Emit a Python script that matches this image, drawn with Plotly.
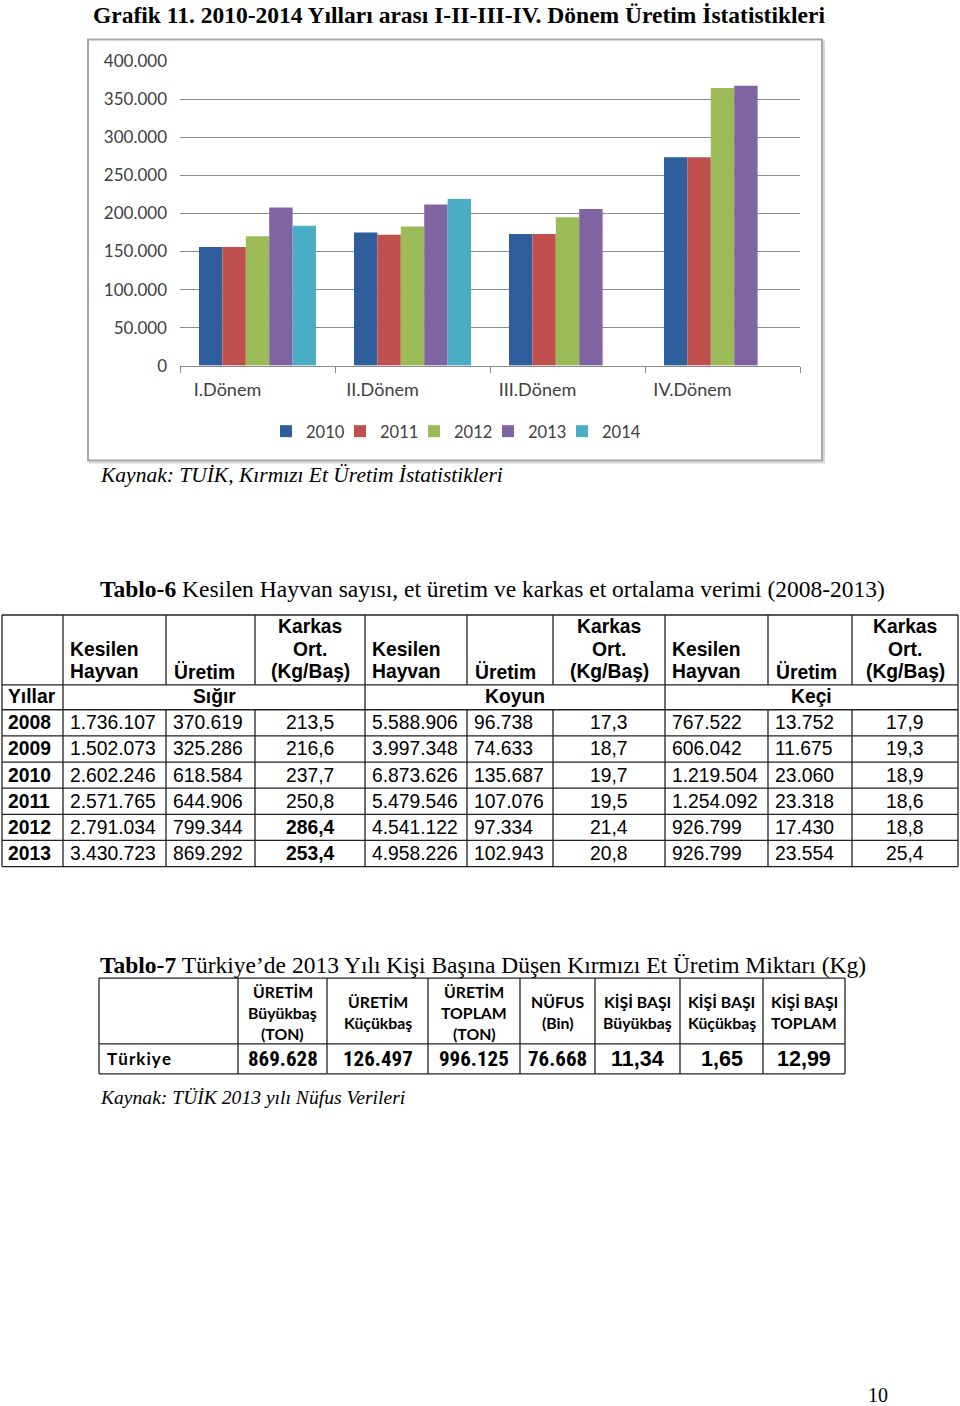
import plotly.graph_objects as go

W, H = 960, 1406

# ---------------- chart data ----------------
periods = ["I.Dönem", "II.Dönem", "III.Dönem", "IV.Dönem"]
years = ["2010", "2011", "2012", "2013", "2014"]
v2010 = [156000, 175000, 173000, 274000]
v2011 = [156000, 172000, 173000, 274000]
v2012 = [170000, 183000, 195000, 365000]
v2013 = [208000, 212000, 206000, 368000]
v2014 = [184000, 219000, None, None]
series = [v2010, v2011, v2012, v2013, v2014]
ytick_vals = [0, 50000, 100000, 150000, 200000, 250000, 300000, 350000, 400000]
ytick_text = ["0", "50.000", "100.000", "150.000", "200.000", "250.000", "300.000", "350.000", "400.000"]

# ---------------- table 6 data ----------------
t6_years = ["2008", "2009", "2010", "2011", "2012", "2013"]
sigir_kesilen = ["1.736.107", "1.502.073", "2.602.246", "2.571.765", "2.791.034", "3.430.723"]
sigir_uretim = ["370.619", "325.286", "618.584", "644.906", "799.344", "869.292"]
sigir_karkas = ["213,5", "216,6", "237,7", "250,8", "286,4", "253,4"]
koyun_kesilen = ["5.588.906", "3.997.348", "6.873.626", "5.479.546", "4.541.122", "4.958.226"]
koyun_uretim = ["96.738", "74.633", "135.687", "107.076", "97.334", "102.943"]
koyun_karkas = ["17,3", "18,7", "19,7", "19,5", "21,4", "20,8"]
keci_kesilen = ["767.522", "606.042", "1.219.504", "1.254.092", "926.799", "926.799"]
keci_uretim = ["13.752", "11.675", "23.060", "23.318", "17.430", "23.554"]
keci_karkas = ["17,9", "19,3", "18,9", "18,6", "18,8", "25,4"]
t6_groups = ["Sığır", "Koyun", "Keçi"]

# ---------------- table 7 data ----------------
t7_headers = [["ÜRETİM", "Büyükbaş", "(TON)"], ["ÜRETİM", "Küçükbaş"], ["ÜRETİM", "TOPLAM", "(TON)"],
              ["NÜFUS", "(Bin)"], ["KİŞİ BAŞI", "Büyükbaş"], ["KİŞİ BAŞI", "Küçükbaş"], ["KİŞİ BAŞI", "TOPLAM"]]
t7_row = "Türkiye"
t7_values = ["869.628", "126.497", "996.125", "76.668", "11,34", "1,65", "12,99"]

# ---------------- styles ----------------
colors = ["#2F5E9C", "#C0504D", "#9BBB59", "#8064A2", "#4BACC6"]
SERIF = "Liberation Serif, Times New Roman, serif"
ARIAL = "Liberation Sans, Arial, sans-serif"
CALI = "Lato, Open Sans, sans-serif"
NARROW = "Liberation Sans Narrow, Roboto Condensed, Liberation Sans, sans-serif"

# vertical calibration of the rendered page (screen px -> figure px)
Y_OFF, Y_SC = 9.5, 0.9875


def X(px):
    return px / W


def Y(py):
    return 1 - ((py - Y_OFF) / Y_SC) / H


fig = go.Figure()
for yr, vals, c in zip(years, series, colors):
    fig.add_trace(go.Bar(name=yr, x=periods, y=vals, marker=dict(color=c, line=dict(width=0)),
                         legendwidth=48 if yr == years[-1] else None))

annotations = []
shapes = []


def txt(x, y, s, size, family, anchor="left", color="black"):
    annotations.append(dict(xref="paper", yref="paper", x=X(x), y=Y(y), text=s, showarrow=False,
                            xanchor=anchor, yanchor="middle", borderpad=0,
                            font=dict(family=family, size=size, color=color)))


def line(x0, y0, x1, y1, color="#222222", width=1.3):
    shapes.append(dict(type="line", xref="paper", yref="paper", x0=X(x0), y0=Y(y0), x1=X(x1), y1=Y(y1),
                       line=dict(color=color, width=width)))


# ---- page texts ----
txt(92, 14, "<b>Grafik 11. 2010-2014 Yılları arası I-II-III-IV. Dönem Üretim İstatistikleri</b>", 23.5, SERIF)
txt(99, 475, "<i>Kaynak: TUİK, Kırmızı Et Üretim İstatistikleri</i>", 21.5, SERIF)
txt(99, 589, "<b>Tablo-6</b> Kesilen Hayvan sayısı, et üretim ve karkas et ortalama verimi (2008-2013)", 23.5, SERIF)
txt(99, 966, "<b>Tablo-7</b> Türkiye’de 2013 Yılı Kişi Başına Düşen Kırmızı Et Üretim Miktarı (Kg)", 23.5, SERIF)
txt(99, 1099, "<i>Kaynak: TÜİK 2013 yılı Nüfus Verileri</i>", 19.6, SERIF)
txt(878, 1397, "10", 20, SERIF, anchor="center")

# ---- chart frame ----
shapes.append(dict(type="rect", xref="paper", yref="paper", x0=X(90), y0=Y(462), x1=X(824), y1=Y(40),
                   line=dict(color="#D6D6D6", width=2), layer="below"))
shapes.append(dict(type="rect", xref="paper", yref="paper", x0=X(88), y0=Y(460), x1=X(822), y1=Y(38),
                   line=dict(color="#A6A6A6", width=2), fillcolor="white", layer="below"))

# ---- table 6 ----
c6 = [2, 63, 166, 255, 365, 467, 553, 665, 768, 852, 958]
top6, head_b, grp_b = 615, 685, 710
rh = 26.2
r6 = [grp_b + rh * i for i in range(7)]
for yy in [top6, head_b] + r6:
    line(c6[0], yy, c6[-1], yy)
for i, xx in enumerate(c6):
    if i in (0, 1, 4, 7, 10):
        line(xx, top6, xx, r6[-1])
    else:
        line(xx, top6, xx, head_b)
        line(xx, grp_b, xx, r6[-1])

F6 = 19.3
for g in range(3):
    b = c6[1 + 3 * g]
    txt(b + 6, 650, "<b>Kesilen</b>", F6, ARIAL)
    txt(b + 6, 672, "<b>Hayvan</b>", F6, ARIAL)
    txt(c6[2 + 3 * g] + 7, 672, "<b>Üretim</b>", F6, ARIAL)
    cx = (c6[3 + 3 * g] + c6[4 + 3 * g]) / 2
    txt(cx, 627, "<b>Karkas</b>", F6, ARIAL, anchor="center")
    txt(cx, 650, "<b>Ort.</b>", F6, ARIAL, anchor="center")
    txt(cx, 672, "<b>(Kg/Baş)</b>", F6, ARIAL, anchor="center")
    txt((c6[1 + 3 * g] + c6[4 + 3 * g]) / 2, 697, "<b>%s</b>" % t6_groups[g], F6, ARIAL, anchor="center")
txt(7, 697, "<b>Yıllar</b>", F6, ARIAL)

cols6 = [sigir_kesilen, sigir_uretim, sigir_karkas, koyun_kesilen, koyun_uretim, koyun_karkas,
         keci_kesilen, keci_uretim, keci_karkas]
bold_sigir_karkas = [False, False, False, False, True, True]
for i in range(6):
    cy = grp_b + rh * (i + 0.5)
    txt(7, cy, "<b>%s</b>" % t6_years[i], F6, ARIAL)
    for j, col in enumerate(cols6):
        x0, x1 = c6[1 + j], c6[2 + j]
        s = col[i]
        if j == 2 and bold_sigir_karkas[i]:
            s = "<b>%s</b>" % s
        if j % 3 == 2:
            txt((x0 + x1) / 2, cy, s, F6, ARIAL, anchor="center")
        else:
            txt(x0 + 6, cy, s, F6, ARIAL)

# ---- table 7 ----
c7 = [99, 238, 327, 428, 520, 595, 680, 763, 845]
r7 = [979, 1045, 1075]
for yy in r7:
    line(c7[0], yy, c7[-1], yy)
for xx in c7:
    line(xx, r7[0], xx, r7[-1])
for j, hd in enumerate(t7_headers):
    cx = (c7[1 + j] + c7[2 + j]) / 2
    ys = [992, 1013, 1035] if len(hd) == 3 else [1002, 1024]
    for k, s in enumerate(hd):
        txt(cx, ys[k], "<b>%s</b>" % s, 15.8, CALI, anchor="center")
txt(106, 1060, "<b>" + "\u200a".join(t7_row) + "</b>", 17, CALI)
for j, v in enumerate(t7_values):
    cx = (c7[1 + j] + c7[2 + j]) / 2
    if j < 4:
        txt(cx, 1060, "<b>%s</b>" % v, 21, NARROW, anchor="center")
    else:
        txt(cx, 1060, "<b>%s</b>" % v, 21.5, ARIAL, anchor="center")

fig.update_layout(
    width=W, height=H, margin=dict(l=0, r=0, t=0, b=0),
    paper_bgcolor="white", plot_bgcolor="white",
    barmode="group", bargap=0.245, bargroupgap=0,
    showlegend=True,
    legend=dict(orientation="h", x=X(266), xanchor="left", y=Y(431), yanchor="middle",
                font=dict(family=CALI, size=16.5, color="#404040"), bgcolor="rgba(0,0,0,0)",
                itemwidth=30, entrywidth=29, entrywidthmode="pixels", traceorder="normal"),
    xaxis=dict(domain=[X(180), X(800)], type="category", categoryorder="array", categoryarray=periods,
               showline=True, linecolor="#8C8C8C", linewidth=1, ticks="outside", tickson="boundaries",
               ticklen=6, tickcolor="#8C8C8C", showgrid=False, ticklabelshift=-30, ticklabelstandoff=8,
               tickfont=dict(family=CALI, size=18, color="#404040")),
    yaxis=dict(domain=[Y(365), Y(60)], range=[0, 400000], tickvals=ytick_vals, ticktext=ytick_text,
               showgrid=True, gridcolor="#8C8C8C", gridwidth=1, zeroline=False, showline=False, ticks="",
               ticklabelstandoff=12, tickfont=dict(family=CALI, size=17, color="#404040")),
    annotations=annotations, shapes=shapes,
)

fig.write_html("out.html")
